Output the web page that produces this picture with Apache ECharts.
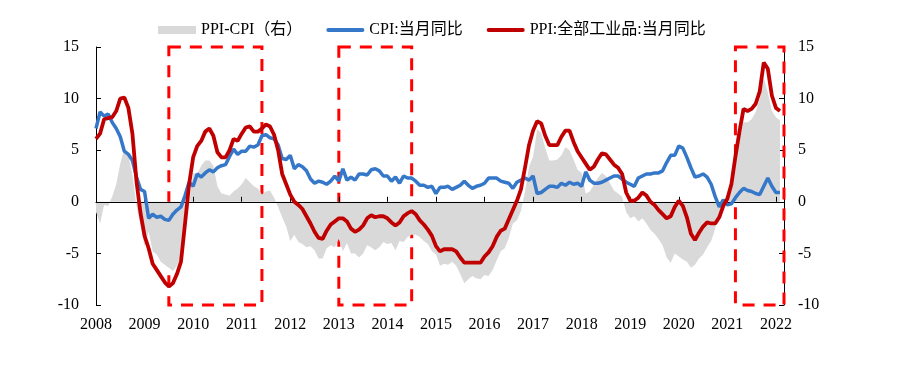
<!DOCTYPE html>
<html><head><meta charset="utf-8">
<script src="https://cdn.jsdelivr.net/npm/echarts@6/dist/echarts.min.js"></script>
<style>html,body{margin:0;padding:0;background:#fff}#c{width:900px;height:370px}</style>
</head><body><div id="c"></div>
<script>
// Monthly categories 2008-01 .. 2022-03
const months = [];
for (let y = 2008; y <= 2022; y++) {
  for (let m = 1; m <= 12; m++) {
    if (y === 2022 && m > 3) break;
    months.push(y + '-' + String(m).padStart(2, '0'));
  }
}
const yTicks = [-10, -5, 0, 5, 10, 15];

// CPI: 当月同比 (%)
const cpi = [
  7.1, 8.7, 8.3, 8.5, 7.7, 7.1, 6.3, 4.9, 4.6, 4.0, 2.4, 1.2,
  1.0, -1.6, -1.2, -1.5, -1.4, -1.7, -1.8, -1.2, -0.8, -0.5, 0.6, 1.9,
  1.5, 2.7, 2.4, 2.8, 3.1, 2.9, 3.3, 3.5, 3.6, 4.4, 5.1, 4.6,
  4.9, 4.9, 5.4, 5.3, 5.5, 6.4, 6.5, 6.2, 6.1, 5.5, 4.2, 4.1,
  4.5, 3.2, 3.6, 3.4, 3.0, 2.2, 1.8, 2.0, 1.9, 1.7, 2.0, 2.5,
  2.0, 3.2, 2.1, 2.4, 2.1, 2.7, 2.7, 2.6, 3.1, 3.2, 3.0, 2.5,
  2.5, 2.0, 2.4, 1.8, 2.5, 2.3, 2.3, 2.0, 1.6, 1.6, 1.4, 1.5,
  0.8, 1.4, 1.4, 1.5, 1.2, 1.4, 1.6, 2.0, 1.6, 1.3, 1.5, 1.6,
  1.8, 2.3, 2.3, 2.3, 2.0, 1.9, 1.8, 1.3, 1.9, 2.1, 2.3, 2.1,
  2.5, 0.8, 0.9, 1.2, 1.5, 1.5, 1.4, 1.8, 1.6, 1.9, 1.7, 1.8,
  1.5, 2.9, 2.1, 1.8, 1.8, 1.9, 2.1, 2.3, 2.5, 2.5, 2.2, 1.9,
  1.7, 1.5, 2.3, 2.5, 2.7, 2.7, 2.8, 2.8, 3.0, 3.8, 4.5, 4.5,
  5.4, 5.2, 4.3, 3.3, 2.4, 2.5, 2.7, 2.4, 1.7, 0.5, -0.5, 0.2,
  -0.3, -0.2, 0.4, 0.9, 1.3, 1.1, 1.0, 0.8, 0.7, 1.5, 2.3, 1.5,
  0.9, 0.9
];

// PPI: 全部工业品: 当月同比 (%)
const ppi = [
  6.1, 6.6, 8.0, 8.1, 8.2, 8.8, 10.0, 10.1, 9.1, 6.6, 2.0, -1.1,
  -3.3, -4.5, -6.0, -6.6, -7.2, -7.8, -8.2, -7.9, -7.0, -5.8, -2.1, 1.7,
  4.3, 5.4, 5.9, 6.8, 7.1, 6.4, 4.8, 4.3, 4.3, 5.0, 6.1, 5.9,
  6.6, 7.2, 7.3, 6.8, 6.8, 7.1, 7.5, 7.3, 6.5, 5.0, 2.7, 1.7,
  0.7, 0.0, -0.3, -0.7, -1.4, -2.1, -2.9, -3.5, -3.6, -2.8, -2.2, -1.9,
  -1.6, -1.6, -1.9, -2.6, -2.9, -2.7, -2.3, -1.6, -1.3, -1.5, -1.4, -1.4,
  -1.6, -2.0, -2.3, -2.0, -1.4, -1.1, -0.9, -1.2, -1.8, -2.2, -2.7, -3.3,
  -4.3, -4.8, -4.6, -4.6, -4.6, -4.8, -5.4, -5.9, -5.9, -5.9, -5.9, -5.9,
  -5.3, -4.9, -4.3, -3.4, -2.8, -2.6, -1.7, -0.8, 0.1, 1.2, 3.3, 5.5,
  6.9, 7.8, 7.6, 6.4, 5.5, 5.5, 5.5, 6.3, 6.9, 6.9, 5.8, 4.9,
  4.3, 3.7, 3.1, 3.4, 4.1, 4.7, 4.6, 4.1, 3.6, 3.3, 2.7, 0.9,
  0.1, 0.1, 0.4, 0.9, 0.6, 0.0, -0.3, -0.8, -1.2, -1.6, -1.4, -0.5,
  0.1, -0.4, -1.5, -3.1, -3.7, -3.0, -2.4, -2.0, -2.1, -2.1, -1.5, -0.4,
  0.3, 1.7, 4.4, 6.8, 9.0, 8.8, 9.0, 9.5, 10.7, 13.5, 12.9, 10.3,
  9.1, 8.8
];

// PPI-CPI (右轴)
const gap = [
  -1.0, -2.1, -0.3, -0.4, 0.5, 1.7, 3.7, 5.2, 4.5, 2.6, -0.4, -2.3,
  -4.3, -2.9, -4.8, -5.1, -5.8, -6.1, -6.4, -6.7, -6.2, -5.3, -2.7, -0.2,
  2.8, 2.7, 3.5, 4.0, 4.0, 3.5, 1.5, 0.8, 0.7, 0.6, 1.0, 1.3,
  1.7, 2.3, 1.9, 1.5, 1.3, 0.7, 1.0, 1.1, 0.4, -0.5, -1.5, -2.4,
  -3.8, -3.2, -3.9, -4.1, -4.4, -4.3, -4.7, -5.5, -5.5, -4.5, -4.2, -4.4,
  -3.6, -4.8, -4.0, -5.0, -5.0, -5.4, -5.0, -4.2, -4.4, -4.7, -4.4, -3.9,
  -4.1, -4.0, -4.7, -3.8, -3.9, -3.4, -3.2, -3.2, -3.4, -3.8, -4.1, -4.8,
  -5.1, -6.2, -6.0, -6.1, -5.8, -6.2, -7.0, -7.9, -7.5, -7.2, -7.4, -7.5,
  -7.1, -7.2, -6.6, -5.7, -4.8, -4.5, -3.5, -2.1, -1.8, -0.9, 1.0, 3.4,
  4.4, 7.0, 6.7, 5.2, 4.0, 4.0, 4.1, 4.5, 5.3, 5.0, 4.1, 3.1,
  2.8, 0.8, 1.0, 1.6, 2.3, 2.8, 2.5, 1.8, 1.1, 0.8, 0.5, -1.0,
  -1.6, -1.4, -1.9, -1.6, -2.1, -2.7, -3.1, -3.6, -4.2, -5.4, -5.9, -5.0,
  -5.3, -5.6, -5.8, -6.4, -6.1, -5.5, -5.1, -4.4, -3.8, -2.6, -1.0, -0.6,
  0.6, 1.9, 4.0, 5.9, 7.7, 7.7, 8.0, 8.7, 10.0, 12.0, 10.6, 8.8,
  8.2, 7.9
];

// Highlighted periods (dashed boxes): [start month, end month]
const boxes = [['2009-07', '2011-06'], ['2013-01', '2014-07'], ['2021-03', '2022-03']];

const names = ['PPI-CPI（右）', 'CPI:当月同比', 'PPI:全部工业品:当月同比'];
const FONT = "'Liberation Serif', 'Times New Roman', 'Noto Sans CJK SC', serif";
const yearTick = (i) => i % 12 === 0;
const lineIcon = 'path://M2,0 H38 A2,2 0 0 1 38,4 H2 A2,2 0 0 1 2,0 Z';

const chart = echarts.init(document.getElementById('c'), null, { renderer: 'canvas' });
chart.setOption({
  animation: false,
  backgroundColor: '#fff',
  textStyle: { fontFamily: FONT },
  legend: {
    top: 17, left: 153, itemWidth: 38, itemHeight: 8, itemGap: 24,
    textStyle: { fontFamily: FONT, fontSize: 16, color: '#000' },
    data: [
      { name: names[0], icon: 'rect', itemStyle: { color: '#D9D9D9' } },
      { name: names[1], icon: lineIcon, itemStyle: { color: '#3577C8' } },
      { name: names[2], icon: lineIcon, itemStyle: { color: '#C00000' } }
    ]
  },
  grid: { left: 96, right: 116, top: 47, bottom: 65 },
  xAxis: [
    {
      type: 'category', data: months, boundaryGap: false, position: 'top', z: 3,
      axisLine: { onZero: true, lineStyle: { color: '#000', width: 1 } },
      axisTick: { show: true, inside: false, length: 5, interval: yearTick, lineStyle: { color: '#000' } },
      axisLabel: { show: false }, splitLine: { show: false }
    },
    {
      type: 'category', data: months, boundaryGap: false, position: 'bottom',
      axisLine: { show: false, onZero: false }, axisTick: { show: false },
      axisLabel: { interval: yearTick, formatter: v => v.slice(0, 4), margin: 12,
        fontSize: 16, color: '#000', fontFamily: FONT },
      splitLine: { show: false }
    }
  ],
  yAxis: [
    {
      type: 'value', position: 'left', min: yTicks[0], max: yTicks[yTicks.length - 1], interval: 5,
      axisLine: { show: true, onZero: false, lineStyle: { color: '#000' } },
      axisTick: { show: true, inside: true, length: 5, lineStyle: { color: '#000' } },
      axisLabel: { margin: 17, fontSize: 16, color: '#000', fontFamily: FONT },
      splitLine: { show: false }
    },
    {
      type: 'value', position: 'right', min: yTicks[0], max: yTicks[yTicks.length - 1], interval: 5,
      axisLine: { show: true, onZero: false, lineStyle: { color: '#000' } },
      axisTick: { show: true, inside: true, length: 5, lineStyle: { color: '#000' } },
      axisLabel: { margin: 14, fontSize: 16, color: '#000', fontFamily: FONT },
      splitLine: { show: false }
    }
  ],
  series: [
    {
      name: names[0], type: 'line', yAxisIndex: 1, data: gap, symbol: 'none', z: 1,
      lineStyle: { width: 0, color: '#D9D9D9' }, itemStyle: { color: '#D9D9D9' },
      areaStyle: { color: '#D9D9D9', opacity: 1 }
    },
    {
      name: names[1], type: 'line', data: cpi, symbol: 'none', z: 4,
      lineStyle: { width: 3.5, color: '#3577C8' }, itemStyle: { color: '#3577C8' }
    },
    {
      name: names[2], type: 'line', data: ppi, symbol: 'none', z: 5, clip: false,
      lineStyle: { width: 3.8, color: '#C00000' }, itemStyle: { color: '#C00000' },
      markArea: {
        silent: true,
        itemStyle: { color: 'rgba(0,0,0,0)', borderColor: '#FF0000', borderWidth: 3, borderType: [12, 9] },
        data: boxes.map(b => [{ xAxis: b[0], yAxis: 15 }, { xAxis: b[1], yAxis: -10.35 }])
      }
    }
  ]
});
</script>
</body></html>
